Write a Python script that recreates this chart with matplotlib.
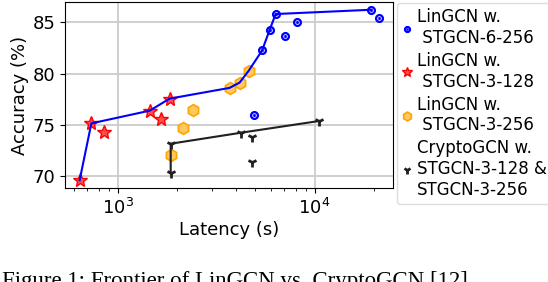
import matplotlib.pyplot as plt

# STGCN-6-256 (LinGCN)
lat_6_256 = [19400, 21100, 6340, 8130, 7050, 5910, 5410, 4920]
acc_6_256 = [86.24, 85.46, 85.82, 85.07, 83.63, 84.28, 82.26, 75.92]

# STGCN-3-128 (LinGCN)
lat_3_128 = [641, 735, 849, 1453, 1667, 1836]
acc_3_128 = [69.58, 75.13, 74.25, 76.37, 75.56, 77.55]

# STGCN-3-256 (LinGCN)
lat_3_256 = [4630, 4160, 3700, 2410, 2150, 1870]
acc_3_256 = [80.29, 79.12, 78.60, 76.44, 74.71, 72.00]

# CryptoGCN
lat_crypto = [1858, 1858, 4245, 4830, 4830, 10520]
acc_crypto = [73.14, 70.29, 74.22, 73.82, 71.31, 75.36]
crypto_front_lat = [1858, 1858, 4245, 10520]
crypto_front_acc = [70.29, 73.14, 74.22, 75.36]

# LinGCN frontier
front_lat = [641, 735, 1453, 1836, 3700, 4160, 4630, 5410, 5910, 6340, 19400]
front_acc = [69.58, 75.13, 76.37, 77.55, 78.60, 79.12, 80.29, 82.26, 84.28, 85.82, 86.24]

fig = plt.figure(figsize=(5.48, 2.82), dpi=100)
ax = fig.add_axes([0.1186, 0.333, 0.598, 0.66])

ax.plot(lat_6_256, acc_6_256, ls='none', marker=r'$\odot$', ms=5.5, color='blue',
        label='LinGCN w.\n STGCN-6-256', zorder=3)
ax.plot(lat_3_128, acc_3_128, ls='none', marker='*', ms=10, color='red',
        mfc='#ff5050', label='LinGCN w.\n STGCN-3-128', zorder=3)
ax.plot(lat_3_256, acc_3_256, ls='none', marker='h', ms=8.5, color='orange',
        mfc='#ffc860', mew=1.2, label='LinGCN w.\n STGCN-3-256', zorder=3)
ax.plot(lat_crypto, acc_crypto, ls='none', marker='1', ms=7, mew=2, color='#231f20',
        label='CryptoGCN w.\nSTGCN-3-128 &\nSTGCN-3-256', zorder=3)

ax.plot(front_lat, front_acc, color='blue', lw=1.5, zorder=4)
ax.plot(crypto_front_lat, crypto_front_acc, color='#231f20', lw=1.5, zorder=4)

ax.set_xscale('log')
ax.set_xlim(540, 24900)
ax.set_ylim(68.8, 87.0)
ax.set_yticks([70, 75, 80, 85])
ax.grid(True, color='#cccccc', lw=1.3)
ax.set_axisbelow(True)
ax.tick_params(labelsize=13)
ax.set_xlabel('Latency (s)', fontsize=13, labelpad=2)
ax.set_ylabel('Accuracy (%)', fontsize=13, labelpad=2)

fig.legend(loc='upper left', bbox_to_anchor=(397 / 548, 1 - 3 / 282), fontsize=12,
           handlelength=0.6, handletextpad=0.3, borderpad=0.3, labelspacing=0.3,
           borderaxespad=0, framealpha=1, edgecolor='#dddddd', markerscale=0.75)

fig.text(0.003, 1 - 271 / 282, 'Figure 1: Frontier of LinGCN vs. CryptoGCN [12]',
         family='Liberation Serif', fontsize=16.5, va='top', ha='left')

fig.savefig('out.png', dpi=100)
